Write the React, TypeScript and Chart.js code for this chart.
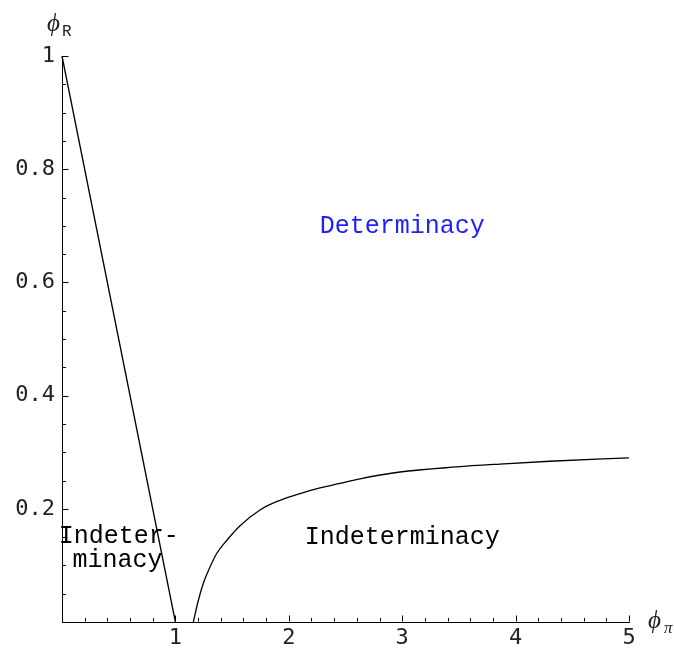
import React, { useEffect, useRef } from "react";
import { Chart, registerables } from "chart.js";

Chart.register(...registerables);

// ---- data ----
const boundaryLeft = [
  { x: 0, y: 1 },
  { x: 1, y: 0 },
];

const boundaryRightX = [1.158, 1.202, 1.246, 1.305, 1.364, 1.452, 1.57, 1.746, 1.922, 2.099, 2.275, 2.451, 2.628, 2.98, 3.48, 3.86, 4.3, 5.0];
const boundaryRightY = [0, 0.038, 0.068, 0.097, 0.121, 0.144, 0.17, 0.198, 0.215, 0.227, 0.237, 0.245, 0.253, 0.265, 0.274, 0.279, 0.284, 0.29];

const xTickValues = [1, 2, 3, 4, 5];
const yTickValues = [0.2, 0.4, 0.6, 0.8, 1];
const xMinorStep = 0.2;
const yMinorStep = 0.05;

const regionLabels = ["Determinacy", "Indeterminacy", "Indeter-", "minacy"];
const regionLabelX = [3.0, 3.0, 0.5, 0.49];
const regionLabelY = [0.688, 0.1375, 0.139, 0.097];
const regionLabelColor = ["rgb(30,30,255)", "#000", "#000", "#000"];

const TICK_FONT = "DejaVu Sans Mono";
const TEXT_FONT = "Liberation Mono";

const overlayPlugin = {
  id: "overlay",
  afterDraw(chart: any) {
    const { ctx, scales } = chart;
    const xs = scales.x;
    const ys = scales.y;
    const x0 = Math.round(xs.getPixelForValue(0)) + 0.5;
    const y0 = Math.round(ys.getPixelForValue(0)) - 0.5;
    ctx.save();
    ctx.strokeStyle = "#000";
    ctx.lineWidth = 1;
    // x ticks (inward)
    const nx = Math.round(5 / xMinorStep);
    for (let i = 1; i <= nx; i++) {
      const v = i * xMinorStep;
      const major = Math.abs(v - Math.round(v)) < 1e-6;
      const px = Math.round(xs.getPixelForValue(v)) + 0.5;
      const len = major ? 6 : 3.5;
      ctx.beginPath();
      ctx.moveTo(px, y0);
      ctx.lineTo(px, y0 - len);
      ctx.stroke();
    }
    // y ticks (inward)
    const ny = Math.round(1 / yMinorStep);
    for (let i = 1; i <= ny; i++) {
      const v = i * yMinorStep;
      const major = Math.abs(v / 0.2 - Math.round(v / 0.2)) < 1e-6;
      const py = Math.round(ys.getPixelForValue(v)) + 0.5;
      const len = major ? 6 : 3.5;
      ctx.beginPath();
      ctx.moveTo(x0, py);
      ctx.lineTo(x0 + len, py);
      ctx.stroke();
    }
    // region labels
    ctx.font = `25px "${TEXT_FONT}"`;
    ctx.textAlign = "center";
    ctx.textBaseline = "alphabetic";
    regionLabels.forEach((t, i) => {
      ctx.fillStyle = regionLabelColor[i];
      ctx.fillText(t, xs.getPixelForValue(regionLabelX[i]), ys.getPixelForValue(regionLabelY[i]));
    });
    // axis titles
    ctx.fillStyle = "#222";
    ctx.textAlign = "left";
    ctx.font = `italic 25px "Liberation Serif"`;
    ctx.fillText("\u03D5", 47, 31);
    ctx.font = `16px "${TEXT_FONT}"`;
    ctx.fillText("R", 62, 36);
    ctx.font = `italic 25px "Liberation Serif"`;
    ctx.fillText("\u03D5", 648, 628);
    ctx.font = `italic 17px "Liberation Serif"`;
    ctx.fillText("\u03C0", 664, 633);
    ctx.restore();
  },
};

export default function App() {
  const ref = useRef<HTMLCanvasElement | null>(null);
  useEffect(() => {
    if (!ref.current) return;
    const chart = new Chart(ref.current, {
      type: "scatter",
      data: {
        datasets: [
          {
            data: boundaryLeft,
            showLine: true,
            borderColor: "#000",
            borderWidth: 1.3,
            pointRadius: 0,
            clip: false as any,
          },
          {
            data: boundaryRightX.map((x, i) => ({ x, y: boundaryRightY[i] })),
            showLine: true,
            borderColor: "#000",
            borderWidth: 1.3,
            pointRadius: 0,
            cubicInterpolationMode: "monotone",
            clip: false as any,
          },
        ],
      },
      options: {
        responsive: false,
        animation: false,
        events: [],
        layout: { padding: { top: 56, right: 45, left: 0, bottom: 0 } },
        plugins: { legend: { display: false }, tooltip: { enabled: false }, title: { display: false } },
        scales: {
          x: {
            type: "linear",
            min: 0,
            max: 5,
            afterFit: (s: any) => {
              s.height = 26;
            },
            afterBuildTicks: (s: any) => {
              s.ticks = xTickValues.map((v) => ({ value: v }));
            },
            ticks: {
              padding: 3,
              color: "#222",
              font: { family: TICK_FONT, size: 22 },
              maxRotation: 0,
              autoSkip: false,
              callback: (v: any) => String(v),
            },
            grid: { display: false, drawTicks: false },
            border: { display: true, color: "#000", width: 1 },
          },
          y: {
            type: "linear",
            min: 0,
            max: 1,
            afterFit: (s: any) => {
              s.width = 62;
            },
            afterBuildTicks: (s: any) => {
              s.ticks = yTickValues.map((v) => ({ value: v }));
            },
            ticks: {
              padding: 7,
              color: "#222",
              font: { family: TICK_FONT, size: 22 },
              autoSkip: false,
              callback: (v: any) => String(Math.round(v * 10) / 10),
            },
            grid: { display: false, drawTicks: false },
            border: { display: true, color: "#000", width: 1 },
          },
        },
      },
      plugins: [overlayPlugin],
    });
    return () => chart.destroy();
  }, []);
  return (
    <div style={{ position: "absolute", left: 0, top: 0, width: 674, height: 648, background: "#fff" }}>
      <canvas ref={ref} width={674} height={648} style={{ display: "block" }} />
    </div>
  );
}
